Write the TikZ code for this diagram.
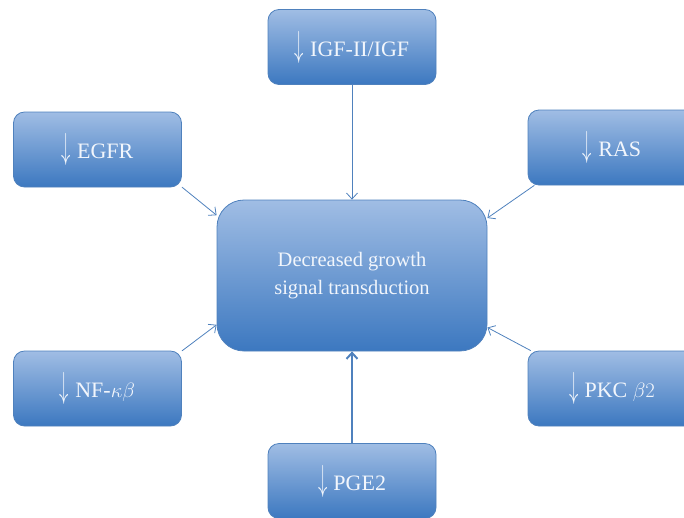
\documentclass[tikz,border=0pt]{standalone}
\usepackage{fontspec}
\setmainfont{Liberation Serif}
\usepackage{tikz}
\usetikzlibrary{arrows.meta}
\definecolor{sgedge}{RGB}{79,129,189}
\definecolor{sgtop}{RGB}{160,189,228}
\definecolor{sgmid}{RGB}{118,158,214}
\definecolor{sgbot}{RGB}{60,120,192}
\definecolor{sgtext}{RGB}{242,246,252}
\newcommand\dn{\scalebox{0.9}[1.75]{$\downarrow$}}
\tikzset{
  sgbox/.style={
    draw=sgedge, line width=0.8pt, inner sep=0pt,
    top color=sgtop, middle color=sgmid, bottom color=sgbot,
    text=sgtext, align=center
  },
  leaf/.style={sgbox, rounded corners=11pt, minimum width=168pt, minimum height=75pt,
    font=\fontsize{22}{26}\selectfont},
  hub/.style={sgbox, rounded corners=27pt, minimum width=270pt, minimum height=151pt,
    font=\fontsize{20.5}{28}\selectfont},
  arr/.style={-{Straight Barb[length=6pt,width=11pt]}, draw=sgedge, line width=0.8pt},
  thk/.style={arr, line width=2pt}
}
\begin{document}
\begin{tikzpicture}[x=1pt,y=-1pt]
  \useasboundingbox (0,0) rectangle (684,517);
  \node[hub] (sig) at (352,275.5) {Decreased growth\\signal transduction};
  \node[leaf] (igf) at (352,47) {\dn\;IGF-II/IGF};
  \node[leaf] (egfr) at (97.5,149.5) {\dn\;EGFR};
  \node[leaf] (ras) at (612,147.5) {\dn\;RAS};
  \node[leaf] (nfk) at (97.5,388.5) {\dn\;NF-$\kappa\beta$};
  \node[leaf] (pkc) at (612,388.5) {\dn\;PKC $\beta2$};
  \node[leaf] (pge) at (352,481) {\dn\;PGE2};

  \draw[arr] (igf.south) -- (sig.north);
  \draw[arr] (egfr.-24) -- (sig.156);
  \draw[arr] (ras.206) -- (sig.23);
  \draw[arr] (nfk.24) -- (sig.200);
  \draw[arr] (pkc.155) -- (sig.-21);
  \draw[thk] (pge.north) -- (sig.south);
\end{tikzpicture}
\end{document}
